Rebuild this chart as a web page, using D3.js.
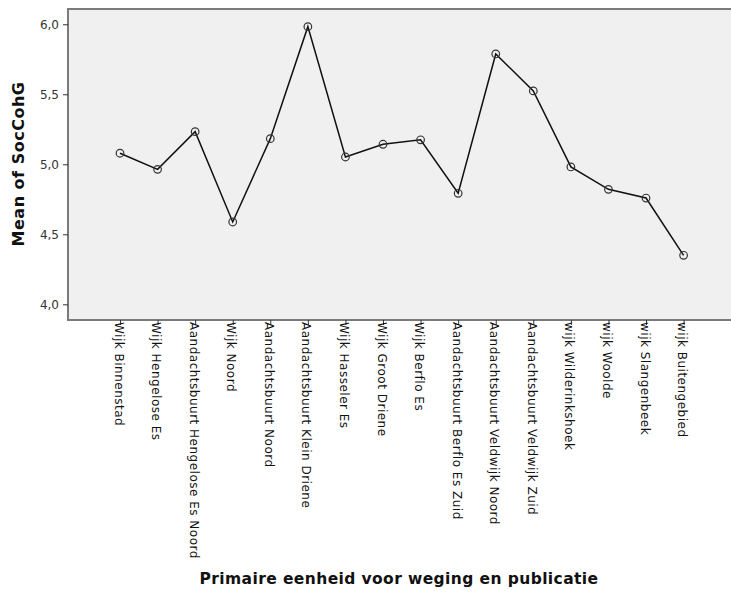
<!DOCTYPE html>
<html>
<head>
<meta charset="utf-8">
<script src="https://cdn.jsdelivr.net/npm/d3@7"></script>
<style>
  html, body { margin: 0; padding: 0; background: #fff; }
  svg { display: block; }
</style>
</head>
<body>
<svg id="chart" width="731" height="592"></svg>
<script>
const categories = [
  "Wijk Binnenstad",
  "Wijk Hengelose Es",
  "Aandachtsbuurt Hengelose Es Noord",
  "Wijk Noord",
  "Aandachtsbuurt Noord",
  "Aandachtsbuurt Klein Driene",
  "Wijk Hasseler Es",
  "Wijk Groot Driene",
  "Wijk Berflo Es",
  "Aandachtsbuurt Berflo Es Zuid",
  "Aandachtsbuurt Veldwijk Noord",
  "Aandachtsbuurt Veldwijk Zuid",
  "wijk Wilderinkshoek",
  "wijk Woolde",
  "wijk Slangenbeek",
  "wijk Buitengebied"
];
const meanValues = [5.079, 4.964, 5.233, 4.588, 5.183, 5.983, 5.052, 5.143, 5.175, 4.793, 5.788, 5.524, 4.981, 4.821, 4.759, 4.350];
const yTickValues = [4.0, 4.5, 5.0, 5.5, 6.0];
const yTitle = "Mean of SocCohG";
const xTitle = "Primaire eenheid voor weging en publicatie";

const svg = d3.select("#chart");
const plot = { left: 68, top: 9, right: 780, bottom: 320 };

const x = d3.scalePoint().domain(categories).range([120, 683.6]);
const y = d3.scaleLinear().domain([3.888, 6.109]).range([plot.bottom, plot.top]);

// plot background frame
svg.append("rect")
  .attr("x", plot.left).attr("y", plot.top)
  .attr("width", plot.right - plot.left).attr("height", plot.bottom - plot.top)
  .attr("fill", "#f0f0f0").attr("stroke", "#7a7a7a").attr("stroke-width", 2);

const fmt = d => d.toFixed(1).replace(".", ",");

// y axis
const yAxis = svg.append("g")
  .attr("transform", `translate(${plot.left},0)`)
  .call(d3.axisLeft(y).tickValues(yTickValues).tickFormat(fmt).tickSize(5).tickPadding(4));
yAxis.select(".domain").remove();
yAxis.selectAll("line").attr("stroke", "#333");
yAxis.selectAll("text").attr("font-family", "DejaVu Sans, sans-serif").attr("font-size", 12).attr("fill", "#333");

// x axis
const xAxis = svg.append("g")
  .attr("transform", `translate(0,${plot.bottom})`)
  .call(d3.axisBottom(x).tickSize(5).tickPadding(2));
xAxis.select(".domain").remove();
xAxis.selectAll("line").attr("stroke", "#333");
xAxis.selectAll("text")
  .attr("font-family", "DejaVu Sans, sans-serif").attr("font-size", 12).attr("fill", "#111")
  .attr("letter-spacing", 0.5)
  .attr("text-anchor", "start")
  .attr("dy", null)
  .attr("y", 0)
  .attr("transform", "translate(-2,2) rotate(90)")
  .attr("dominant-baseline", "central");

// line
const line = d3.line()
  .x((d, i) => x(categories[i]))
  .y(d => y(d));
svg.append("path")
  .datum(meanValues)
  .attr("d", line)
  .attr("fill", "none").attr("stroke", "#111").attr("stroke-width", 1.5);

// markers
svg.append("g").selectAll("circle")
  .data(meanValues)
  .join("circle")
  .attr("cx", (d, i) => x(categories[i]))
  .attr("cy", d => y(d))
  .attr("r", 3.8)
  .attr("fill", "none").attr("stroke", "#333").attr("stroke-width", 1.2);

// titles
svg.append("text")
  .attr("transform", `translate(24,164) rotate(-90)`)
  .attr("text-anchor", "middle")
  .attr("font-family", "DejaVu Sans, sans-serif").attr("font-weight", "bold").attr("font-size", 16)
  .attr("letter-spacing", 0.5)
  .attr("fill", "#111")
  .text(yTitle);

svg.append("text")
  .attr("x", 399).attr("y", 584)
  .attr("text-anchor", "middle")
  .attr("font-family", "DejaVu Sans, sans-serif").attr("font-weight", "bold").attr("font-size", 15.5)
  .attr("letter-spacing", 0.4)
  .attr("fill", "#111")
  .text(xTitle);
</script>
</body>
</html>
